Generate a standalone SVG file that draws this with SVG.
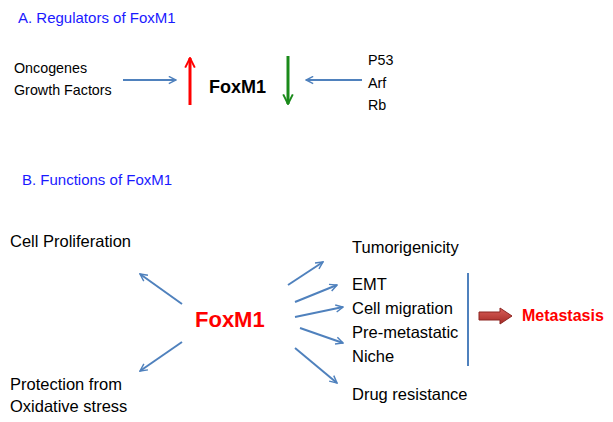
<svg xmlns="http://www.w3.org/2000/svg" width="613" height="422" viewBox="0 0 613 422">
<defs>
<marker id="hb" viewBox="0 0 10 10" refX="9" refY="5" markerWidth="4.5" markerHeight="4.5" orient="auto" markerUnits="strokeWidth">
<path d="M1,1 L9,5 L1,9" fill="none" stroke="#4f81bd" stroke-width="1.6"/>
</marker>
<marker id="hr" viewBox="0 0 10 10" refX="9" refY="5" markerWidth="4" markerHeight="4" orient="auto" markerUnits="strokeWidth">
<path d="M1,1 L9,5 L1,9" fill="none" stroke="#ff0000" stroke-width="1.6"/>
</marker>
<marker id="hg" viewBox="0 0 10 10" refX="9" refY="5" markerWidth="4" markerHeight="4" orient="auto" markerUnits="strokeWidth">
<path d="M1,1 L9,5 L1,9" fill="none" stroke="#1a8a1a" stroke-width="1.6"/>
</marker>
<linearGradient id="mg" x1="0" y1="0" x2="0" y2="1">
<stop offset="0" stop-color="#d9605a"/>
<stop offset="1" stop-color="#a52a25"/>
</linearGradient>
</defs>
<style>
text{font-family:"Liberation Sans",Arial,sans-serif;font-size:16.5px;fill:#000}
.h{fill:#1a1aff;font-size:15px}
.t{font-size:14.3px}
.b{font-weight:bold}
.red{fill:#ff0000;font-weight:bold}
.ab{stroke:#4f81bd;stroke-width:2;fill:none;marker-end:url(#hb)}
</style>
<rect width="613" height="422" fill="#fff"/>
<text class="h" x="18" y="23">A. Regulators of FoxM1</text>
<text class="h" x="22" y="185">B. Functions of FoxM1</text>

<g id="connectors">
<line class="ab" x1="123" y1="80" x2="176" y2="80"/>
<line class="ab" x1="362" y1="80" x2="306" y2="80"/>
<line x1="190" y1="105" x2="190" y2="58" stroke="#ff0000" stroke-width="3" marker-end="url(#hr)"/>
<line x1="288" y1="56" x2="288" y2="104" stroke="#1a8a1a" stroke-width="3" marker-end="url(#hg)"/>
<line class="ab" x1="182" y1="304" x2="140" y2="274"/>
<line class="ab" x1="182" y1="342" x2="140" y2="371"/>
<line class="ab" x1="288" y1="285" x2="323" y2="262"/>
<line class="ab" x1="295" y1="302" x2="337" y2="285"/>
<line class="ab" x1="295" y1="317" x2="343" y2="307"/>
<line class="ab" x1="300" y1="328" x2="343" y2="343"/>
<line class="ab" x1="295" y1="348" x2="337" y2="383"/>
<line x1="468" y1="273" x2="468" y2="366" stroke="#4f81bd" stroke-width="2"/>
<path d="M479,312 L500,312 L500,308 L512,316 L500,324 L500,320 L479,320 Z" fill="url(#mg)" stroke="#8c2420" stroke-width="1"/>
</g>

<g id="n-oncogenes"><text class="t" x="14" y="73">Oncogenes</text><text class="t" x="14" y="95">Growth Factors</text></g>
<g id="n-foxm1-a"><text class="b" x="209" y="93" style="font-size:18px">FoxM1</text></g>
<g id="n-suppressors"><text class="t" x="368" y="65">P53</text><text class="t" x="368" y="88">Arf</text><text class="t" x="368" y="110">Rb</text></g>

<g id="n-foxm1-b"><text class="red" x="195" y="327" style="font-size:22px">FoxM1</text></g>
<g id="n-prolif"><text x="10" y="247">Cell Proliferation</text></g>
<g id="n-protect"><text x="10" y="390">Protection from</text><text x="10" y="412">Oxidative stress</text></g>
<g id="n-tumor"><text x="352" y="253">Tumorigenicity</text></g>
<g id="n-emt"><text x="352" y="290">EMT</text></g>
<g id="n-migration"><text x="352" y="314">Cell migration</text></g>
<g id="n-niche"><text x="352" y="338">Pre-metastatic</text><text x="352" y="362">Niche</text></g>
<g id="n-drug"><text x="352" y="400">Drug resistance</text></g>
<g id="n-metastasis"><text class="red" x="522" y="321" style="font-size:16px">Metastasis</text></g>
</svg>
